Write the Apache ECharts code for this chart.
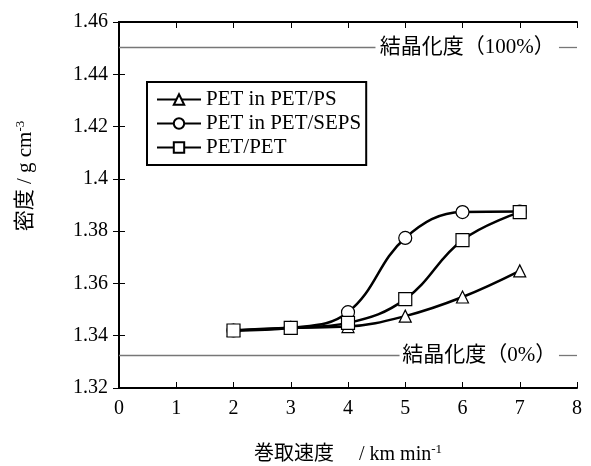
<!DOCTYPE html>
<html><head><meta charset="utf-8">
<script src="https://cdn.jsdelivr.net/npm/echarts@6/dist/echarts.min.js"></script>
<style>html,body{margin:0;padding:0;background:#fff}#c{width:591px;height:466px}</style>
</head><body><div id="c"></div>
<script>
const speeds = [2, 3, 4, 5, 6, 7];
const petInPS = [1.342, 1.343, 1.3435, 1.3475, 1.3548, 1.3648];
const petInSEPS = [1.342, 1.343, 1.349, 1.3774, 1.3873, 1.3875];
const petPet = [1.342, 1.343, 1.3449, 1.354, 1.3766, 1.3873];
const seriesNames = ['PET in PET/PS', 'PET in PET/SEPS', 'PET/PET'];
const crystal100 = 1.4503;
const crystal0 = 1.3325;
const label100 = '結晶化度（100%）';
const label0 = '結晶化度（0%）';

const serif = 'Liberation Serif';
const mixed = '"Liberation Serif", "Noto Sans CJK JP", serif';

function mk(name, vals, sym) {
  return {
    name: name, type: 'line', smooth: 0.4,
    data: speeds.map((x, i) => [x, vals[i]]),
    symbol: sym, symbolSize: sym === 'triangle' ? 12 : 13,
    lineStyle: {color: '#000', width: 2.5},
    itemStyle: {color: '#fff', borderColor: '#000', borderWidth: 1.2},
    z: 3
  };
}
function refLine(y, text, gapStart, gapEnd) {
  return {
    type: 'line', data: [], silent: true, z: 1,
    markLine: {
      silent: true, symbol: 'none', animation: false,
      lineStyle: {color: '#777', width: 1.3, type: 'solid'},
      label: {show: false},
      data: [
        [{coord: [0, y]}, {coord: [gapStart, y]}],
        [{coord: [gapStart, y], lineStyle: {color: 'rgba(255,255,255,0)'},
          label: {show: true, position: 'middle', formatter: text,
           color: '#000', fontSize: 21, fontFamily: mixed, distance: 0,
           verticalAlign: 'middle'}}, {coord: [gapEnd, y]}],
        [{coord: [gapEnd, y]}, {coord: [8, y]}]
      ]
    }
  };
}
const chart = echarts.init(document.getElementById('c'), null, {renderer: 'canvas'});
chart.setOption({
  animation: false,
  backgroundColor: '#fff',
  textStyle: {fontFamily: serif, color: '#000'},
  grid: {left: 119, right: 14, top: 22, bottom: 78, containLabel: false, outerBoundsMode: 'none'},
  legend: {
    orient: 'vertical', left: 147, top: 82,
    data: seriesNames,
    borderColor: '#000', borderWidth: 2, borderRadius: 0,
    padding: [7, 5, 7, 9], itemGap: 3,
    itemWidth: 44, itemHeight: 13,
    textStyle: {fontFamily: serif, fontSize: 21, color: '#000'}
  },
  xAxis: [{
    type: 'value', min: 0, max: 8, interval: 1,
    axisLine: {lineStyle: {color: '#000', width: 2}},
    axisTick: {inside: true, length: 6, lineStyle: {color: '#000', width: 1}},
    axisLabel: {fontFamily: serif, fontSize: 20, color: '#000', margin: 11},
    splitLine: {show: false},
    name: '{a|巻取速度　 / km min}{s|-1}', nameLocation: 'middle', nameGap: 55,
    nameTextStyle: {rich: {
      a: {fontFamily: mixed, fontSize: 20, color: '#000'},
      s: {fontFamily: serif, fontSize: 13, color: '#000', verticalAlign: 'top', padding: [0, 0, 10, 0]}
    }}
  }, {
    type: 'value', min: 0, max: 8, interval: 1, position: 'top',
    axisLine: {lineStyle: {color: '#000', width: 2}},
    axisTick: {inside: true, length: 6, lineStyle: {color: '#000', width: 1}},
    axisLabel: {show: false}, splitLine: {show: false}
  }],
  yAxis: [{
    type: 'value', min: 1.32, max: 1.46, interval: 0.02,
    axisLine: {lineStyle: {color: '#000', width: 2}},
    axisTick: {inside: true, length: 6, lineStyle: {color: '#000', width: 1}},
    axisLabel: {fontFamily: serif, fontSize: 20, color: '#000', margin: 11,
      formatter: v => String(parseFloat(v.toFixed(2)))},
    splitLine: {show: false},
    name: '{a|密度 / g cm}{s|-3}', nameLocation: 'middle', nameGap: 82, nameRotate: 90,
    nameTextStyle: {padding: [0, 0, 0, 58], rich: {
      a: {fontFamily: mixed, fontSize: 21, color: '#000'},
      s: {fontFamily: serif, fontSize: 13, color: '#000', verticalAlign: 'top', padding: [0, 0, 10, 0]}
    }}
  }, {
    type: 'value', min: 1.32, max: 1.46, interval: 0.02, position: 'right',
    axisLine: {lineStyle: {color: '#000', width: 2}},
    axisTick: {inside: true, length: 6, lineStyle: {color: '#000', width: 1}},
    axisLabel: {show: false}, splitLine: {show: false}
  }],
  series: [
    refLine(crystal100, label100, 4.48, 7.685),
    refLine(crystal0, label0, 4.9, 7.685),
    mk(seriesNames[0], petInPS, 'triangle'),
    mk(seriesNames[1], petInSEPS, 'circle'),
    mk(seriesNames[2], petPet, 'rect')
  ]
});
</script></body></html>
